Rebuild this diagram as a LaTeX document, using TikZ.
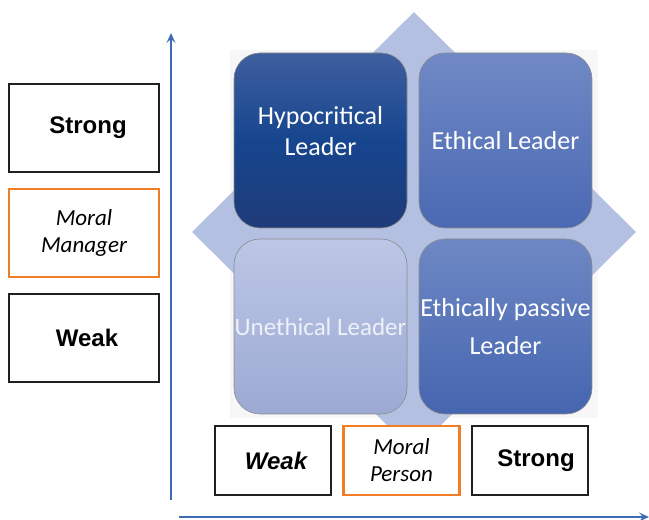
\documentclass[tikz,border=0pt]{standalone}
\usepackage{fontspec}
\setmainfont{Liberation Sans}
\newfontfamily\tilefont{Carlito}
\usetikzlibrary{shapes.geometric,arrows.meta,positioning}
\definecolor{diamondfill}{HTML}{B3C0E2}
\definecolor{hypotop}{HTML}{3F5F9F}
\definecolor{hypomid}{HTML}{16458E}
\definecolor{hypobot}{HTML}{1F3B78}
\definecolor{ethtop}{HTML}{7089C5}
\definecolor{ethbot}{HTML}{4A69B3}
\definecolor{unetop}{HTML}{BCC6E6}
\definecolor{unebot}{HTML}{9CAAD3}
\definecolor{passtop}{HTML}{6E88C4}
\definecolor{passbot}{HTML}{4565AF}
\definecolor{axisblue}{HTML}{3F6DB5}
\definecolor{moralorange}{HTML}{F07E26}
\definecolor{boxdark}{HTML}{231F20}
\definecolor{paletext}{HTML}{EEF1F9}
\begin{document}
\begin{tikzpicture}[x=1pt,y=1pt]
    % Define Styles
        \tikzstyle{tile} = [rectangle, rounded corners=26pt, minimum width=173pt, minimum height=175pt, inner sep=0pt, outer sep=0pt, draw=black!45, line width=0.6pt, text=white, font=\tilefont\fontsize{26}{31}\selectfont, align=center]
        \tikzstyle{scalebox} = [rectangle, draw=boxdark, line width=2.4pt, fill=white, outer sep=0pt, inner sep=0pt, align=center]
        \tikzstyle{sidebox} = [scalebox, minimum width=150pt, minimum height=88pt]
        \tikzstyle{basebox} = [scalebox, minimum width=116pt, minimum height=69pt]
        \tikzstyle{moral} = [draw=moralorange, font=\tilefont\itshape\fontsize{23}{27}\selectfont]
        \tikzstyle{strength} = [font=\bfseries\fontsize{24}{27}\selectfont]
        \tikzstyle{axis} = [draw=axisblue, line width=2pt, -{Stealth[length=10pt,width=9pt,inset=4pt]}]
        \useasboundingbox (0,0) rectangle (649,520);
    % Backdrop
        \fill[black!3] (230,102) rectangle (598,470);
        \node [diamond, fill=diamondfill, minimum width=444pt, minimum height=440pt, inner sep=0pt] (backdrop) at (414,288) {};
    % Place nodes
        \node [tile, top color=hypotop, bottom color=hypobot, middle color=hypomid] (hypo) at (320.5,379.5) {Hypocritical\\Leader\\[-12pt]\mbox{}};
        \node [tile, top color=ethtop, bottom color=ethbot, right = 12pt of hypo] (ethical) {Ethical Leader};
        \node [tile, top color=unetop, bottom color=unebot, text=paletext, font=\tilefont\fontsize{25}{31}\selectfont, below = 11pt of hypo] (unethical) {Unethical Leader};
        \node [tile, top color=passtop, bottom color=passbot, below = 11pt of ethical] (passive) {Ethically passive\\[7pt]Leader};
        \node [sidebox, strength] (mstrong) at (84,392) {\hspace{8pt}Strong};
        \node [sidebox, moral, below = 17pt of mstrong] (manager) {Moral\\Manager};
        \node [sidebox, strength, below = 17pt of manager] (mweak) {\hspace{6pt}Weak};
        \node [basebox, strength, font=\bfseries\itshape\fontsize{24}{27}\selectfont] (pweak) at (273,59.5) {\hspace{6pt}Weak};
        \node [basebox, moral, right = 12.5pt of pweak] (person) {Moral\\Person};
        \node [basebox, strength, right = 12.5pt of person] (pstrong) {\hspace{12pt}Strong};
    % Axes
        \coordinate (yfoot) at (171,20);
        \coordinate (ytip) at (171,487);
        \coordinate (xfoot) at (179,3);
        \coordinate (xtip) at (649,3);
        \draw[axis] (yfoot) -- (ytip);
        \draw[axis] (xfoot) -- (xtip);
\end{tikzpicture}
\end{document}
